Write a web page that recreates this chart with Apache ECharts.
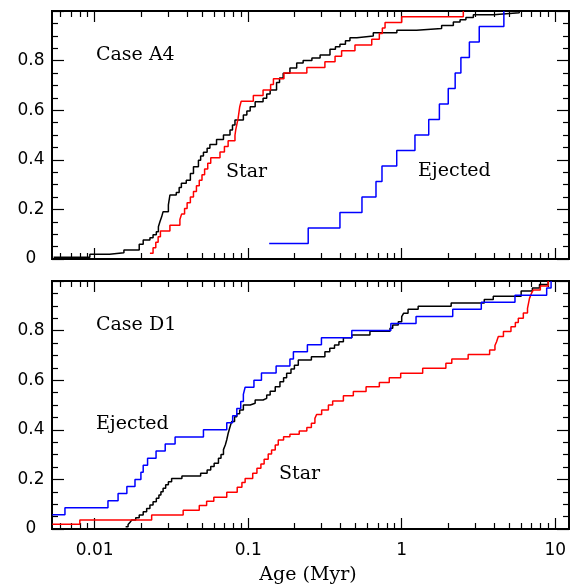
<!DOCTYPE html>
<html><head><meta charset="utf-8">
<script src="https://cdn.jsdelivr.net/npm/echarts@6/dist/echarts.min.js"></script>
<style>html,body{margin:0;padding:0;background:#fff}#c{width:570px;height:586px}</style>
</head><body><div id="c"></div><script>
// ---- axis definitions ----
const xMin = 0.00527, xMax = 12.3;
const majorX = [0.01, 0.1, 1, 10];
const xLabels = ['0.01', '0.1', '1', '10'];
const minorX = [0.006,0.007,0.008,0.009,0.02,0.03,0.04,0.05,0.06,0.07,0.08,0.09,
                0.2,0.3,0.4,0.5,0.6,0.7,0.8,0.9,2,3,4,5,6,7,8,9];
const yLabels = ['0', '0.2', '0.4', '0.6', '0.8', ''];
const xTitle = 'Age (Myr)';
const panelTitles = ['Case A4', 'Case D1'];

// ---- Case A4 (top panel): [age Myr, cumulative fraction] ----
const caseA4All = [
 [0.0054,0.007],[0.0093,0.019],[0.0125,0.025],[0.0155,0.036],[0.0195,0.059],[0.0207,0.077],
 [0.0229,0.086],[0.0240,0.098],[0.0252,0.110],[0.0260,0.130],[0.0266,0.150],[0.0273,0.170],
 [0.0279,0.191],[0.0302,0.218],[0.0309,0.258],[0.0340,0.268],[0.0355,0.288],[0.0367,0.305],
 [0.0395,0.318],[0.0420,0.345],[0.0440,0.372],[0.0474,0.398],[0.0490,0.415],[0.0511,0.430],
 [0.0540,0.447],[0.0563,0.462],[0.0622,0.482],[0.0690,0.500],[0.0761,0.520],[0.0790,0.540],
 [0.0820,0.560],[0.0930,0.581],[0.0980,0.597],[0.103,0.614],[0.111,0.634],[0.125,0.648],
 [0.132,0.665],[0.139,0.681],[0.153,0.712],[0.160,0.730],[0.169,0.749],[0.187,0.770],
 [0.207,0.790],[0.228,0.800],[0.260,0.810],[0.294,0.823],[0.341,0.846],[0.370,0.856],
 [0.396,0.866],[0.430,0.880],[0.460,0.892],[0.51,0.899],[0.653,0.912],[0.93,0.922],
 [1.25,0.929],[1.82,0.942],[2.17,0.956],[2.40,0.965],[2.62,0.974],[2.93,0.985],[3.95,0.993],[5.83,1.0]
];
const caseA4Star = [
 [0.0229,0.023],[0.0240,0.045],[0.0250,0.068],[0.0259,0.090],[0.0268,0.113],[0.0309,0.136],
 [0.0359,0.159],[0.0368,0.181],[0.0385,0.204],[0.0400,0.227],[0.0420,0.250],[0.0440,0.272],
 [0.0460,0.295],[0.0480,0.318],[0.0500,0.340],[0.0520,0.363],[0.0545,0.386],[0.0570,0.408],
 [0.0655,0.431],[0.0700,0.454],[0.0740,0.477],[0.0820,0.499],[0.0830,0.522],[0.0845,0.545],
 [0.0860,0.568],[0.0870,0.590],[0.0880,0.613],[0.0900,0.636],[0.108,0.659],[0.125,0.681],
 [0.140,0.704],[0.146,0.727],[0.171,0.750],[0.241,0.772],[0.316,0.795],[0.368,0.818],
 [0.406,0.840],[0.496,0.863],[0.638,0.886],[0.715,0.909],[0.748,0.931],[0.779,0.954],
 [1.0,0.977],[2.52,1.0]
];
const caseA4Ejected = [
 [0.137,0.0625],[0.246,0.125],[0.396,0.1875],[0.551,0.25],[0.68,0.3125],[0.744,0.375],
 [0.928,0.4375],[1.22,0.5],[1.50,0.5625],[1.76,0.625],[2.01,0.6875],[2.23,0.75],
 [2.43,0.8125],[2.76,0.875],[3.20,0.9375],[4.63,1.0]
];

// ---- Case D1 (bottom panel) ----
const caseD1All = [
 [0.0159,0.009],[0.0165,0.018],[0.0170,0.027],[0.0174,0.036],[0.0185,0.045],[0.0195,0.056],
 [0.0207,0.070],[0.0218,0.083],[0.0229,0.097],[0.0240,0.110],[0.0252,0.124],[0.0262,0.137],
 [0.0270,0.150],[0.0279,0.164],[0.0290,0.178],[0.0302,0.191],[0.0317,0.204],[0.0370,0.214],
 [0.0490,0.225],[0.0540,0.238],[0.0570,0.252],[0.0600,0.265],[0.0640,0.285],[0.0665,0.300],
 [0.0690,0.320],[0.0710,0.340],[0.0725,0.360],[0.0740,0.385],[0.0760,0.410],[0.0780,0.433],
 [0.0815,0.453],[0.0843,0.465],[0.0880,0.480],[0.0930,0.500],[0.103,0.507],[0.111,0.520],
 [0.125,0.527],[0.132,0.540],[0.139,0.555],[0.150,0.574],[0.161,0.594],[0.170,0.610],
 [0.178,0.628],[0.190,0.645],[0.200,0.660],[0.212,0.681],[0.258,0.695],[0.316,0.715],
 [0.340,0.729],[0.365,0.742],[0.390,0.755],[0.417,0.771],[0.473,0.782],[0.621,0.797],
 [0.839,0.809],[0.874,0.823],[0.95,0.836],[1.0,0.856],[1.03,0.870],[1.10,0.886],[1.28,0.898],
 [2.10,0.911],[3.45,0.925],[3.95,0.939],[6.0,0.960],[7.1,0.972],[7.9,0.986],[9.0,1.0]
];
const caseD1Star = [
 [0.0053,0.019],[0.0080,0.036],[0.0235,0.056],[0.0377,0.076],[0.0480,0.095],[0.0536,0.112],
 [0.0597,0.128],[0.0725,0.148],[0.0848,0.168],[0.0910,0.187],[0.0955,0.204],[0.107,0.225],
 [0.114,0.245],[0.121,0.262],[0.127,0.281],[0.135,0.302],[0.142,0.319],[0.150,0.339],
 [0.157,0.359],[0.170,0.372],[0.187,0.382],[0.215,0.395],[0.241,0.409],[0.258,0.426],
 [0.272,0.446],[0.279,0.462],[0.301,0.480],[0.333,0.500],[0.355,0.516],[0.417,0.537],
 [0.484,0.554],[0.586,0.574],[0.715,0.591],[0.83,0.610],[0.985,0.628],[1.37,0.648],
 [1.94,0.668],[2.12,0.685],[2.71,0.704],[3.74,0.722],[4.05,0.740],[4.15,0.755],[4.26,0.776],
 [4.60,0.796],[5.15,0.816],[5.5,0.833],[5.75,0.850],[6.2,0.871],[6.6,0.890],[6.7,0.910],
 [6.8,0.930],[7.0,0.950],[7.2,0.964],[8.0,0.980],[9.0,1.0]
];
const caseD1Ejected = [
 [0.0053,0.0571],[0.0064,0.0857],[0.0122,0.1143],[0.0142,0.1429],[0.0162,0.1714],[0.0183,0.2],
 [0.0200,0.2286],[0.0207,0.2571],[0.0221,0.2857],[0.0251,0.3143],[0.0288,0.3429],[0.0334,0.3714],
 [0.0511,0.4],[0.0725,0.4286],[0.0792,0.4571],[0.0843,0.4857],[0.0894,0.5143],[0.093,0.5429],
 [0.0955,0.5714],[0.109,0.6],[0.122,0.6286],[0.152,0.6571],[0.187,0.6857],[0.197,0.7143],
 [0.243,0.7429],[0.30,0.7714],[0.473,0.8],[0.85,0.8286],[1.24,0.8571],[2.15,0.8857],
 [3.3,0.9143],[5.47,0.9429],[8.8,0.9714],[9.4,1.0]
];

const RED = '#ff0000', BLUE = '#0000ff', BLACK = '#000000';
const panels = [
  {all: caseA4All, star: caseA4Star, ej: caseA4Ejected},
  {all: caseD1All, star: caseD1Star, ej: caseD1Ejected}
];
const gridTops = [11, 281];
const gridH = 248, gridL = 52, gridW = 517;

const chart = echarts.init(document.getElementById('c'), null, {renderer: 'canvas'});
const grids = [], xAxes = [], yAxes = [], series = [];
const fontSans = '"DejaVu Sans", sans-serif';
const fontSerif = '"DejaVu Serif", serif';
const axLine = {show: true, onZero: false, lineStyle: {color: '#000', width: 2}};

gridTops.forEach((top, g) => {
  grids.push({left: gridL, top: top, width: gridW, height: gridH, show: true,
              borderColor: '#000', borderWidth: 2, backgroundColor: 'transparent'});
  ['bottom', 'top'].forEach(pos => {
    [[majorX, 11], [minorX, 6]].forEach(([vals, len], k) => {
      xAxes.push({
        gridIndex: g, type: 'log', logBase: 10, min: xMin, max: xMax, position: pos,
        axisLine: axLine, splitLine: {show: false},
        axisTick: {show: true, inside: true, length: len, customValues: vals,
                   lineStyle: {color: '#000', width: 1.2}},
        axisLabel: {show: g === 1 && pos === 'bottom' && k === 0, customValues: majorX,
                    color: '#000', fontSize: 17, fontFamily: fontSans, margin: 13,
                    formatter: v => {
                      const i = majorX.findIndex(m => Math.abs(Math.log10(m) - Math.log10(v)) < 1e-6);
                      return i >= 0 ? xLabels[i] : '';
                    }}
      });
    });
  });
  ['left', 'right'].forEach(pos => {
    yAxes.push({
      gridIndex: g, type: 'value', min: 0, max: 1, interval: 0.2, position: pos,
      axisLine: axLine, splitLine: {show: false},
      axisTick: {show: true, inside: true, length: 12, lineStyle: {color: '#000', width: 1.2}},
      minorTick: {show: true, splitNumber: 4, length: 6, lineStyle: {color: '#000', width: 1.2}},
      minorSplitLine: {show: false},
      axisLabel: {show: pos === 'left', color: '#000', fontSize: 17, fontFamily: fontSans,
                  margin: 21, align: 'center',
                  formatter: v => yLabels[Math.round(v / 0.2)]}
    });
  });
  const p = panels[g];
  [[p.all, BLACK], [p.star, RED], [p.ej, BLUE]].forEach(([d, c]) => {
    series.push({
      type: 'line', step: 'end', data: d, showSymbol: false, symbol: 'none',
      xAxisIndex: g * 4, yAxisIndex: g * 2, clip: true,
      lineStyle: {color: c, width: 1.5}, animation: false, silent: true
    });
  });
});

const txt = (s, x, y, size, align) => ({
  type: 'text', x: x, y: y, silent: true,
  style: {text: s, fill: '#000', font: size + 'px ' + fontSerif, align: align || 'left', verticalAlign: 'middle'}
});

chart.setOption({
  animation: false,
  grid: grids, xAxis: xAxes, yAxis: yAxes, series: series,
  graphic: [
    txt(panelTitles[0], 96, 55, 19),
    txt('Star', 226, 172, 19),
    txt('Ejected', 418, 171.5, 19),
    txt(panelTitles[1], 96, 325, 19),
    txt('Ejected', 96, 424, 19),
    txt('Star', 279, 474, 19),
    txt(xTitle, 308, 575, 19, 'center')
  ]
});
</script></body></html>
